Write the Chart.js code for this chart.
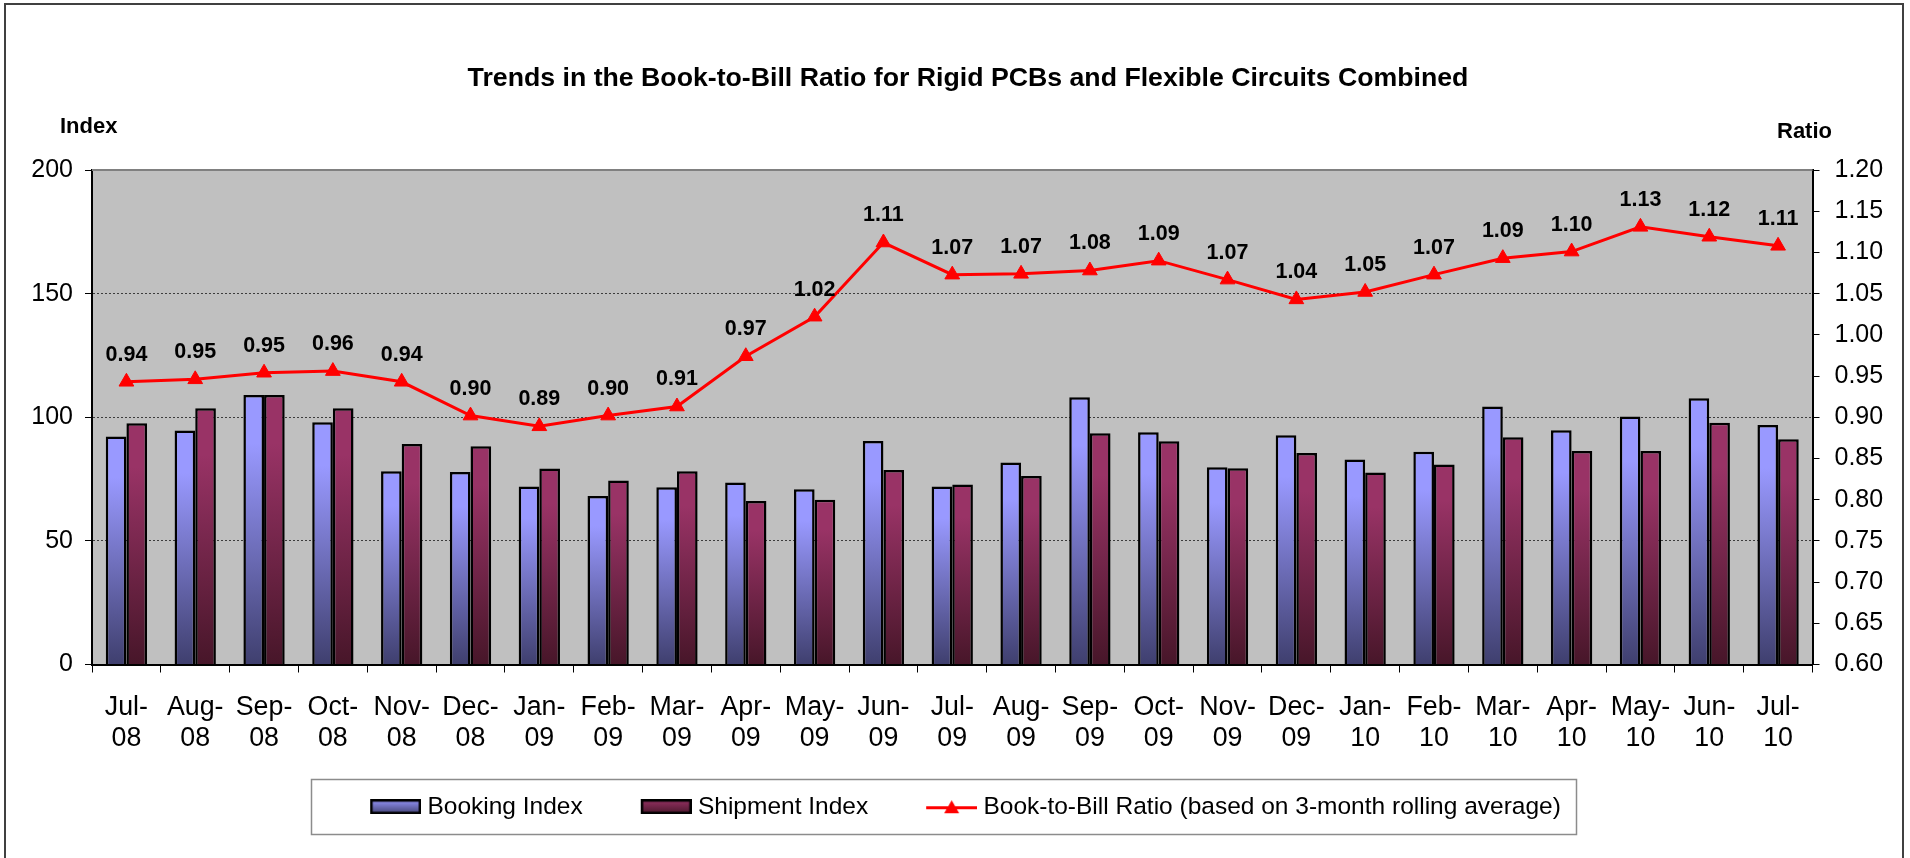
<!DOCTYPE html>
<html>
<head>
<meta charset="utf-8">
<title>Book-to-Bill Ratio</title>
<script src="https://cdn.jsdelivr.net/npm/chart.js@4.4.1/dist/chart.umd.min.js"></script>
<style>
    html, body { margin: 0; padding: 0; background: #fff; }
    canvas { display: block; }
</style>
</head>
<body>
<canvas id="grafico" width="1910" height="858"></canvas>
<script>
const meses = ['Jul-08', 'Aug-08', 'Sep-08', 'Oct-08', 'Nov-08', 'Dec-08', 'Jan-09', 'Feb-09', 'Mar-09',
    'Apr-09', 'May-09', 'Jun-09', 'Jul-09', 'Aug-09', 'Sep-09', 'Oct-09', 'Nov-09', 'Dec-09',
    'Jan-10', 'Feb-10', 'Mar-10', 'Apr-10', 'May-10', 'Jun-10', 'Jul-10']

const bookingIndex = [92.2, 94.6, 109.0, 98.0, 78.2, 77.9, 72.0, 68.2, 71.7, 73.6, 70.9, 90.4, 72.0,
    81.7, 108.1, 93.9, 79.8, 92.7, 82.9, 86.0, 104.3, 94.7, 100.3, 107.7, 96.9]

const shipmentIndex = [97.6, 103.6, 109.0, 103.6, 89.2, 88.3, 79.3, 74.4, 78.2, 66.1, 66.6, 78.7, 72.8,
    76.2, 93.5, 90.3, 79.4, 85.5, 77.7, 80.9, 91.9, 86.3, 86.3, 97.8, 91.1]

const bookToBill = [0.943, 0.946, 0.954, 0.956, 0.943, 0.902, 0.889, 0.902, 0.913, 0.974, 1.022, 1.112, 1.073,
    1.074, 1.078, 1.090, 1.067, 1.043, 1.052, 1.073, 1.093, 1.101, 1.131, 1.119, 1.108]

const indexTicks = [0, 50, 100, 150, 200]
const ratioTicks = [0.60, 0.65, 0.70, 0.75, 0.80, 0.85, 0.90, 0.95, 1.00, 1.05, 1.10, 1.15, 1.20]

const titulo = 'Trends in the Book-to-Bill Ratio for Rigid PCBs and Flexible Circuits Combined'
const nombres = ['Booking Index', 'Shipment Index', 'Book-to-Bill Ratio (based on 3-month rolling average)']

const fuente = "'Liberation Sans', Arial, sans-serif"
const colores = {
    booking: ['#9999ff', '#3f3f6e'],
    shipment: ['#993366', '#471629'],
    ratio: '#ff0000'
}

Chart.defaults.font.family = fuente
Chart.defaults.color = '#000'


// gradient for each bar, light on top and dark at the base
function degradado(claro, oscuro) {
    return function(ctx) {
        let chart = ctx.chart
        let escala = chart.scales.y
        if (ctx.type !== 'data' || !escala) return claro
        let arriba = escala.getPixelForValue(ctx.raw)
        let abajo = escala.getPixelForValue(0)
        let g = chart.ctx.createLinearGradient(0, arriba, 0, abajo)
        g.addColorStop(0, claro)
        g.addColorStop(0.18, claro)
        g.addColorStop(1, oscuro)
        return g
    }
}


// legend swatches: 75px wide canvas, the visible mark sits in the right 51px
function swatchBarra(claro, oscuro) {
    let c = document.createElement('canvas')
    c.width = 75
    c.height = 15
    let g = c.getContext('2d')
    let grad = g.createLinearGradient(0, 0, 0, 15)
    grad.addColorStop(0, claro)
    grad.addColorStop(1, oscuro)
    g.fillStyle = grad
    g.fillRect(24, 0, 51, 15)
    g.strokeStyle = '#000'
    g.lineWidth = 2.5
    g.strokeRect(25.25, 1.25, 48.5, 12.5)
    return c
}


function swatchLinea(color) {
    let c = document.createElement('canvas')
    c.width = 75
    c.height = 17
    let g = c.getContext('2d')
    g.strokeStyle = color
    g.lineWidth = 3
    g.beginPath()
    g.moveTo(24, 9.5)
    g.lineTo(75, 9.5)
    g.stroke()
    g.fillStyle = color
    g.beginPath()
    g.moveTo(49.5, 2)
    g.lineTo(57, 15)
    g.lineTo(42, 15)
    g.closePath()
    g.fill()
    return c
}

const swatches = [
    swatchBarra(colores.booking[0], colores.booking[1]),
    swatchBarra(colores.shipment[0], colores.shipment[1]),
    swatchLinea(colores.ratio)
]


// background, frame, titles, legend box and value labels
const decorado = {
    id: 'decorado',
    beforeDraw(chart) {
        let ctx = chart.ctx
        let a = chart.chartArea
        ctx.save()
        ctx.fillStyle = '#fff'
        ctx.fillRect(0, 0, chart.width, chart.height)
        ctx.fillStyle = '#c0c0c0'
        ctx.fillRect(a.left, a.top, a.right - a.left, a.bottom - a.top)
        ctx.restore()
    },
    afterDatasetsDraw(chart) {
        let ctx = chart.ctx
        let meta = chart.getDatasetMeta(2)
        ctx.save()
        ctx.font = 'bold 21.5px ' + fuente
        ctx.fillStyle = '#000'
        ctx.textAlign = 'center'
        ctx.textBaseline = 'middle'
        meta.data.forEach((punto, i) => {
            ctx.fillText(bookToBill[i].toFixed(2), punto.x, punto.y - 27)
        })
        ctx.restore()
    },
    afterDraw(chart) {
        let ctx = chart.ctx
        let a = chart.chartArea
        ctx.save()

        // top edge of the plot area
        ctx.strokeStyle = '#808080'
        ctx.lineWidth = 2
        ctx.beginPath()
        ctx.moveTo(a.left, a.top)
        ctx.lineTo(a.right, a.top)
        ctx.stroke()

        // outer frame (bottom edge falls outside the picture)
        ctx.strokeStyle = '#404040'
        ctx.lineWidth = 2
        ctx.strokeRect(5, 4, 1898, 900)

        ctx.fillStyle = '#000'
        ctx.textBaseline = 'middle'
        ctx.textAlign = 'center'
        ctx.font = 'bold 26.7px ' + fuente
        ctx.fillText(titulo, 968, 79)

        ctx.textAlign = 'left'
        ctx.font = 'bold 22px ' + fuente
        ctx.fillText('Index', 60, 127)
        ctx.fillText('Ratio', 1777, 132)

        // box round the legend
        let leg = chart.legend
        let pad = leg.options.labels.padding
        let ancho = leg.lineWidths[0]
        let inicio = (leg.left + pad + leg.right - ancho) / 2
        let fin = inicio + ancho - pad
        let centro = leg.top + pad + 12
        let izq = inicio + 18 - 59
        ctx.strokeStyle = '#8c8c8c'
        ctx.lineWidth = 1.5
        ctx.strokeRect(Math.round(izq) + 0.5, Math.round(centro - 28) + 0.5, Math.round(fin + 15 - izq), 55)
        ctx.restore()
    }
}


let lienzo = document.getElementById('grafico')

let miChart = new Chart(lienzo, {
    type: 'bar',
    data: {
        labels: meses,
        datasets: [{
            label: nombres[0],
            data: bookingIndex,
            backgroundColor: degradado(colores.booking[0], colores.booking[1]),
            borderColor: '#000',
            borderWidth: 2.5,
            yAxisID: 'y',
            order: 1
        }, {
            label: nombres[1],
            data: shipmentIndex,
            backgroundColor: degradado(colores.shipment[0], colores.shipment[1]),
            borderColor: '#000',
            borderWidth: 2.5,
            yAxisID: 'y',
            order: 1
        }, {
            type: 'line',
            label: nombres[2],
            data: bookToBill,
            borderColor: colores.ratio,
            backgroundColor: colores.ratio,
            borderWidth: 3,
            pointStyle: 'triangle',
            pointRadius: 8.5,
            pointBorderWidth: 1,
            pointBackgroundColor: colores.ratio,
            pointBorderColor: colores.ratio,
            tension: 0,
            yAxisID: 'y1',
            order: 0
        }]
    },
    options: {
        responsive: false,
        animation: false,
        devicePixelRatio: 1,
        categoryPercentage: 0.6,
        barPercentage: 1.0,
        layout: {
            padding: { top: 170, left: 3, right: 0, bottom: 29 }
        },
        scales: {
            x: {
                grid: {
                    offset: true,
                    drawOnChartArea: false,
                    tickLength: 8,
                    tickColor: '#000',
                    tickWidth: 1
                },
                border: { color: '#000', width: 2 },
                ticks: {
                    autoSkip: false,
                    maxRotation: 0,
                    padding: 19,
                    font: { size: 26.8, lineHeight: 1.17 },
                    color: '#000',
                    callback: function(valor, i) {
                        let partes = meses[i].split('-')
                        return [partes[0] + '-', partes[1]]
                    }
                },
                afterFit: (escala) => { escala.height = 90 }
            },
            y: {
                position: 'left',
                min: indexTicks[0],
                max: indexTicks[indexTicks.length - 1],
                afterBuildTicks: (escala) => { escala.ticks = indexTicks.map(v => ({ value: v })) },
                grid: {
                    color: (ctx) => (ctx.tick && (ctx.tick.value === 0 || ctx.tick.value === 200)) ? 'rgba(0,0,0,0)' : '#3c3c3c',
                    lineWidth: 1,
                    tickLength: 7,
                    tickColor: '#000',
                    tickWidth: 1
                },
                border: { color: '#000', width: 2, dash: [2, 2] },
                ticks: {
                    padding: 12,
                    font: { size: 25 },
                    color: '#000'
                },
                afterFit: (escala) => { escala.width = 89 }
            },
            y1: {
                position: 'right',
                min: ratioTicks[0],
                max: ratioTicks[ratioTicks.length - 1],
                afterBuildTicks: (escala) => { escala.ticks = ratioTicks.map(v => ({ value: v })) },
                grid: {
                    drawOnChartArea: false,
                    tickLength: 7,
                    tickColor: '#000',
                    tickWidth: 1
                },
                border: { color: '#000', width: 2 },
                ticks: {
                    padding: 15,
                    font: { size: 25 },
                    color: '#000',
                    callback: (valor) => Number(valor).toFixed(2)
                },
                afterFit: (escala) => { escala.width = 97.5 }
            }
        },
        plugins: {
            title: { display: false },
            tooltip: { enabled: false },
            legend: {
                position: 'bottom',
                labels: {
                    usePointStyle: true,
                    pointStyleWidth: 63,
                    boxHeight: 24,
                    padding: 40,
                    font: { size: 24.5 },
                    color: '#000',
                    generateLabels: () => nombres.map((nombre, i) => ({
                        text: nombre,
                        pointStyle: swatches[i],
                        datasetIndex: i,
                        hidden: false,
                        lineWidth: 0,
                        fillStyle: 'rgba(0,0,0,0)',
                        strokeStyle: 'rgba(0,0,0,0)',
                        fontColor: '#000'
                    }))
                }
            }
        }
    },
    plugins: [decorado]
})
</script>
</body>
</html>
